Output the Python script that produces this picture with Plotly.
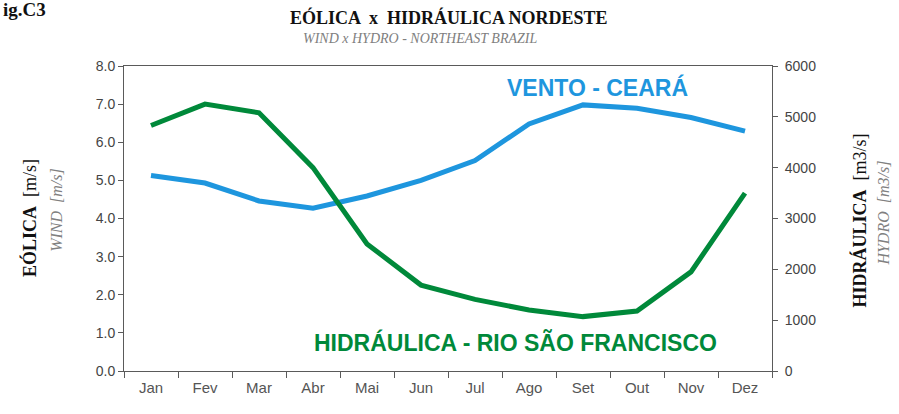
import plotly.graph_objects as go

months = ["Jan", "Fev", "Mar", "Abr", "Mai", "Jun", "Jul", "Ago", "Set", "Out", "Nov", "Dez"]
wind_ceara = [5.13, 4.93, 4.46, 4.27, 4.59, 5.00, 5.52, 6.48, 6.98, 6.89, 6.65, 6.29]
hydro_sf = [4830, 5250, 5080, 4000, 2500, 1690, 1410, 1200, 1070, 1180, 1950, 3500]
left_ticks = [0, 1, 2, 3, 4, 5, 6, 7, 8]
right_ticks = [0, 1000, 2000, 3000, 4000, 5000, 6000]

W, H = 899, 414
L, R, T, B = 123.5, 772.5, 65.5, 371.0

BLUE = "#1E96DE"
GREEN = "#00893A"
AXIS = "#5a5a5a"
SERIF = "Liberation Serif, Times New Roman, serif"
SANS = "Arial, Liberation Sans, sans-serif"


def xp(p):
    return (p - L) / (R - L)


def yp(q):
    return (B - q) / (B - T)


fig = go.Figure()
fig.add_trace(go.Scatter(x=months, y=wind_ceara, mode="lines", name="VENTO - CEARÁ",
                         line=dict(color=BLUE, width=5), yaxis="y"))
fig.add_trace(go.Scatter(x=months, y=hydro_sf, mode="lines", name="HIDRÁULICA - RIO SÃO FRANCISCO",
                         line=dict(color=GREEN, width=5), yaxis="y2"))

ann = []
# title block
ann.append(dict(text="<b>ig.C3</b>", x=xp(0), y=yp(9), xanchor="left", yanchor="middle",
                font=dict(family=SERIF, size=19, color="#111")))
ann.append(dict(text="<b>EÓLICA  x  HIDRÁULICA NORDESTE</b>", x=xp(449), y=yp(17),
                xanchor="center", yanchor="middle", font=dict(family=SERIF, size=18, color="#111")))
ann.append(dict(text="<i>WIND x HYDRO - NORTHEAST BRAZIL</i>", x=xp(420), y=yp(38),
                xanchor="center", yanchor="middle", font=dict(family=SERIF, size=14, color="#808080")))
# axis titles
ann.append(dict(text="<b>EÓLICA</b>  [m/s]", x=xp(29), y=yp(218), textangle=-90,
                xanchor="center", yanchor="middle", font=dict(family=SERIF, size=18, color="#111")))
ann.append(dict(text="<i>WIND  [m/s]</i>", x=xp(56), y=yp(210), textangle=-90,
                xanchor="center", yanchor="middle", font=dict(family=SERIF, size=16, color="#808080")))
ann.append(dict(text="<b>HIDRÁULICA</b>  [m3/s]", x=xp(860), y=yp(220), textangle=-90,
                xanchor="center", yanchor="middle", font=dict(family=SERIF, size=18, color="#111")))
ann.append(dict(text="<i>HYDRO  [m3/s]</i>", x=xp(884), y=yp(213), textangle=-90,
                xanchor="center", yanchor="middle", font=dict(family=SERIF, size=16, color="#808080")))
# series labels
ann.append(dict(text="<b>VENTO - CEARÁ</b>", x=xp(598), y=yp(87),
                xanchor="center", yanchor="middle", font=dict(family=SANS, size=23, color=BLUE)))
ann.append(dict(text="<b>HIDRÁULICA - RIO SÃO FRANCISCO</b>", x=xp(516), y=yp(342),
                xanchor="center", yanchor="middle", font=dict(family=SANS, size=23, color=GREEN)))
for a in ann:
    a.update(xref="paper", yref="paper", showarrow=False)

fig.update_layout(
    width=W, height=H,
    margin=dict(l=L, r=W - R, t=T, b=H - B, pad=0),
    paper_bgcolor="white", plot_bgcolor="white",
    showlegend=False,
    annotations=ann,
    xaxis=dict(type="category", categoryorder="array", categoryarray=months,
               range=[-0.5, 11.5], tickson="boundaries",
               showline=True, mirror=True, linecolor=AXIS, linewidth=1,
               ticks="outside", ticklen=6, tickcolor=AXIS, showgrid=False, zeroline=False,
               ticklabelstandoff=3,
               tickfont=dict(family=SANS, size=15, color="#555")),
    yaxis=dict(range=[0, 8], tickvals=left_ticks, tickformat=".1f",
               showline=True, linecolor=AXIS, linewidth=1,
               ticks="outside", ticklen=5, tickcolor=AXIS, showgrid=False, zeroline=False,
               tickfont=dict(family=SANS, size=14, color="#444")),
    yaxis2=dict(range=[0, 6000], tickvals=right_ticks, overlaying="y", side="right",
                showline=True, linecolor=AXIS, linewidth=1,
                ticks="outside", ticklen=5, tickcolor=AXIS, showgrid=False, zeroline=False,
                ticklabelstandoff=4,
                tickfont=dict(family=SANS, size=14, color="#444")),
)

fig.write_html("out.html", config={"displayModeBar": False},
               post_script="document.body.style.margin='0';document.body.style.padding='0';")
